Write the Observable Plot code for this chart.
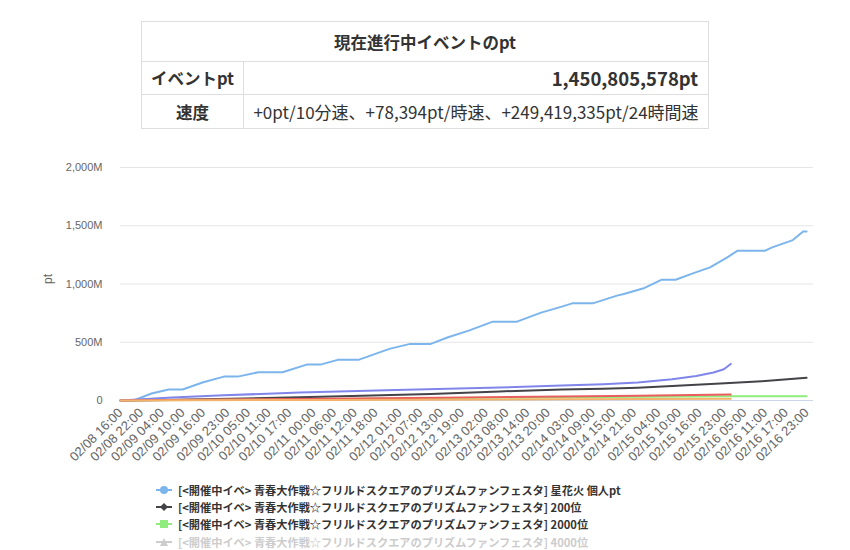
<!DOCTYPE html>
<html>
<head>
<meta charset="utf-8">
<script src="https://cdn.jsdelivr.net/npm/d3@7"></script>
<script src="https://cdn.jsdelivr.net/npm/@observablehq/plot@0.6"></script>
<style>
  html, body { margin: 0; padding: 0; background: #fff; width: 850px; height: 550px; overflow: hidden; }
  body { position: relative; font-family: "Liberation Sans", Arial, "Noto Sans CJK JP", sans-serif; }
  #info { position: absolute; left: 141px; top: 21px; width: 568px; border-collapse: collapse; table-layout: fixed;
          font-family: "Noto Sans CJK JP", sans-serif; color: #333; font-size: 16.5px; }
  #info th, #info td { border: 1px solid #dedede; padding: 0 10px; white-space: nowrap; overflow: hidden; }
  #info tr.h th { height: 39px; font-weight: bold; text-align: center; }
  #info tr.r1 th, #info tr.r1 td { height: 32px; }
  #info tr.r2 th, #info tr.r2 td { height: 33px; }
  #info th.lab { width: 102px; padding: 0; text-align: center; font-weight: bold; }
  #info td.num { text-align: right; font-weight: bold; font-size: 18.5px; }
  #info td.spd { text-align: center; font-size: 17px; padding: 0; }
  #chart { position: absolute; left: 0; top: 140px; }
  #legend { position: absolute; left: 156px; top: 481px; font-family: "Noto Sans CJK JP", sans-serif;
            font-size: 11.2px; font-weight: bold; color: #333; }
  .li { height: 17.3px; display: flex; align-items: center; white-space: nowrap; }
  .li svg { margin-right: 5px; flex: none; }
  .li.off { color: #cccccc; }
</style>
</head>
<body>
<table id="info">
  <colgroup><col style="width:102px"><col></colgroup>
  <tr class="h"><th colspan="2" id="t0"></th></tr>
  <tr class="r1"><th class="lab" id="t1"></th><td class="num" id="t2"></td></tr>
  <tr class="r2"><th class="lab" id="t3"></th><td class="spd" id="t4"></td></tr>
</table>
<div id="chart"></div>
<div id="legend"></div>
<script>
// ---- table text ----
const tableTitle = "現在進行中イベントのpt";
const rowLabels = ["イベントpt", "速度"];
const rowValues = ["1,450,805,578pt", "+0pt/10分速、+78,394pt/時速、+249,419,335pt/24時間速"];

// ---- x tick labels (category labels shown on the axis) ----
const tickLabels = ["02/08 16:00","02/08 22:00","02/09 04:00","02/09 10:00","02/09 16:00","02/09 23:00",
  "02/10 05:00","02/10 11:00","02/10 17:00","02/11 00:00","02/11 06:00","02/11 12:00","02/11 18:00",
  "02/12 01:00","02/12 07:00","02/12 13:00","02/12 19:00","02/13 02:00","02/13 08:00","02/13 14:00",
  "02/13 20:00","02/14 03:00","02/14 09:00","02/14 15:00","02/14 21:00","02/15 04:00","02/15 10:00",
  "02/15 16:00","02/15 23:00","02/16 05:00","02/16 11:00","02/16 17:00","02/16 23:00"];
const domainStart = "02/08 16:00";
const domainEnd = "02/17 01:00";
const yTicks = [0, 500, 1000, 1500, 2000]; // millions
const yLabel = "pt";

// ---- series (values in millions of pt) ----
const seriesNames = [
  "[<開催中イベ> 青春大作戦☆フリルドスクエアのプリズムファンフェスタ] 星花火 個人pt",
  "[<開催中イベ> 青春大作戦☆フリルドスクエアのプリズムファンフェスタ] 200位",
  "[<開催中イベ> 青春大作戦☆フリルドスクエアのプリズムファンフェスタ] 2000位",
  "[<開催中イベ> 青春大作戦☆フリルドスクエアのプリズムファンフェスタ] 4000位",
  "[<開催中イベ> 青春大作戦☆フリルドスクエアのプリズムファンフェスタ] 10000位"
];

const blueTimes = ["02/08 16:00","02/08 20:00","02/09 01:00","02/09 06:00","02/09 10:00","02/09 16:00",
  "02/09 22:00","02/10 02:00","02/10 08:00","02/10 15:00","02/10 22:00","02/11 02:00","02/11 07:00",
  "02/11 13:00","02/11 22:00","02/12 04:00","02/12 10:00","02/12 15:00","02/12 21:00","02/13 04:00",
  "02/13 11:00","02/13 18:00","02/14 00:00","02/14 03:00","02/14 09:00","02/14 16:00","02/14 18:00",
  "02/15 00:00","02/15 05:00","02/15 09:00","02/15 14:00","02/15 19:00","02/16 00:00","02/16 03:00",
  "02/16 11:00","02/16 13:00","02/16 19:00","02/16 22:00","02/16 23:00"];
const blueValues = [0,2,60,95,95,157,205,205,243,243,308,308,349,349,443,486,486,543,600,677,
  677,754,806,834,834,900,914,966,1037,1037,1091,1143,1229,1286,1286,1314,1377,1451,1451];

const blackTimes = ["02/08 16:00","02/09 04:00","02/09 16:00","02/10 04:00","02/10 20:00","02/11 14:00",
  "02/12 10:00","02/13 06:00","02/14 00:00","02/14 12:00","02/14 22:00","02/15 08:00","02/15 22:00",
  "02/16 10:00","02/16 23:00"];
const blackValues = [0,4,10,17,28,40,55,78,95,100,110,125,145,165,195];

const greenTimes = ["02/08 16:00","02/11 04:00","02/14 00:00","02/16 01:00","02/16 23:00"];
const greenValues = [0,13,28,36,37];

const purpleTimes = ["02/08 16:00","02/09 07:00","02/09 22:00","02/10 20:00","02/12 00:00","02/13 06:00",
  "02/14 00:00","02/14 12:00","02/14 22:00","02/15 08:00","02/15 15:00","02/15 20:00","02/15 23:00","02/16 01:00"];
const purpleValues = [0,25,45,68,90,112,128,140,155,182,210,240,268,314];

const redTimes = ["02/08 16:00","02/09 22:00","02/11 04:00","02/12 20:00","02/14 00:00","02/14 22:00","02/16 01:00"];
const redValues = [0,8,16,26,34,40,51];

const orangeTimes = ["02/08 16:00","02/11 04:00","02/14 00:00","02/16 01:00"];
const orangeValues = [0,5,10,14];

// ---- build ----
const YEAR = "2024/";
const parse = d3.utcParse("%Y/%m/%d %H:%M");
const toDate = s => parse(YEAR + s);
const build = (times, values) => times.map((t, i) => ({t: toDate(t), v: values[i] * 1e6}));

const series = [
  {data: build(blueTimes, blueValues), color: "#7cb5ec"},
  {data: build(blackTimes, blackValues), color: "#434348"},
  {data: build(greenTimes, greenValues), color: "#90ed7d"},
  {data: build(purpleTimes, purpleValues), color: "#8085e9"},
  {data: build(redTimes, redValues), color: "#ea5d5d"},
  {data: build(orangeTimes, orangeValues), color: "#f3b36a"}
];

document.getElementById("t0").textContent = tableTitle;
document.getElementById("t1").textContent = rowLabels[0];
document.getElementById("t2").textContent = rowValues[0];
document.getElementById("t3").textContent = rowLabels[1];
document.getElementById("t4").textContent = rowValues[1];

const fmtY = v => v === 0 ? "0" : d3.format(",")(v / 1e6) + "M";
const tickDates = tickLabels.map(toDate);

const chart = Plot.plot({
  width: 850,
  height: 340,
  marginLeft: 120,
  marginRight: 37,
  marginTop: 27,
  marginBottom: 80,
  style: {fontFamily: "'Liberation Sans', Arial, sans-serif", fontSize: "11px", color: "#666", background: "transparent", overflow: "visible"},
  x: {type: "utc", domain: [toDate(domainStart), toDate(domainEnd)], ticks: tickDates,
      tickFormat: d3.utcFormat("%m/%d %H:%M"), tickRotate: -45, tickSize: 0, tickPadding: 10, label: null},
  y: {domain: [0, 2000e6], ticks: yTicks.map(v => v * 1e6), tickFormat: fmtY, tickSize: 0, tickPadding: 18,
      label: null},
  marks: [
    Plot.ruleY(yTicks.slice(1).map(v => v * 1e6), {stroke: "#e6e6e6", strokeWidth: 1}),
    Plot.ruleY([0], {stroke: "#ccd6eb", strokeWidth: 1}),
    ...series.map(s => Plot.line(s.data, {x: "t", y: "v", stroke: s.color, strokeWidth: 2})),
    Plot.text([yLabel], {frameAnchor: "left", rotate: -90, dx: -72, fill: "#666", fontSize: 12})
  ]
});
chart.querySelectorAll("g[aria-label='x-axis'] text, g[aria-label='x-axis tick label'] text").forEach(t => t.setAttribute("font-size", "13"));
document.getElementById("chart").appendChild(chart);

// ---- legend ----
const legendSym = [
  {color: "#7cb5ec", shape: "circle", off: false},
  {color: "#434348", shape: "diamond", off: false},
  {color: "#90ed7d", shape: "square", off: false},
  {color: "#cccccc", shape: "triangle", off: true},
  {color: "#cccccc", shape: "triangle-down", off: true}
];
const legend = document.getElementById("legend");
seriesNames.forEach((name, i) => {
  const s = legendSym[i];
  const row = document.createElement("div");
  row.className = "li" + (s.off ? " off" : "");
  const ns = "http://www.w3.org/2000/svg";
  const svg = document.createElementNS(ns, "svg");
  svg.setAttribute("width", 17); svg.setAttribute("height", 12);
  const line = document.createElementNS(ns, "line");
  line.setAttribute("x1", 0); line.setAttribute("x2", 16); line.setAttribute("y1", 6); line.setAttribute("y2", 6);
  line.setAttribute("stroke", s.color); line.setAttribute("stroke-width", 2);
  svg.appendChild(line);
  let m;
  if (s.shape === "circle") {
    m = document.createElementNS(ns, "circle");
    m.setAttribute("cx", 8); m.setAttribute("cy", 6); m.setAttribute("r", 4);
  } else {
    m = document.createElementNS(ns, "path");
    const d = {
      diamond: "M8 2 L12 6 L8 10 L4 6 Z",
      square: "M4 2 H12 V10 H4 Z",
      triangle: "M8 2 L12 10 L4 10 Z",
      "triangle-down": "M4 2 L12 2 L8 10 Z"
    }[s.shape];
    m.setAttribute("d", d);
  }
  m.setAttribute("fill", s.color);
  svg.appendChild(m);
  row.appendChild(svg);
  const span = document.createElement("span");
  span.textContent = name;
  row.appendChild(span);
  legend.appendChild(row);
});
</script>
</body>
</html>
